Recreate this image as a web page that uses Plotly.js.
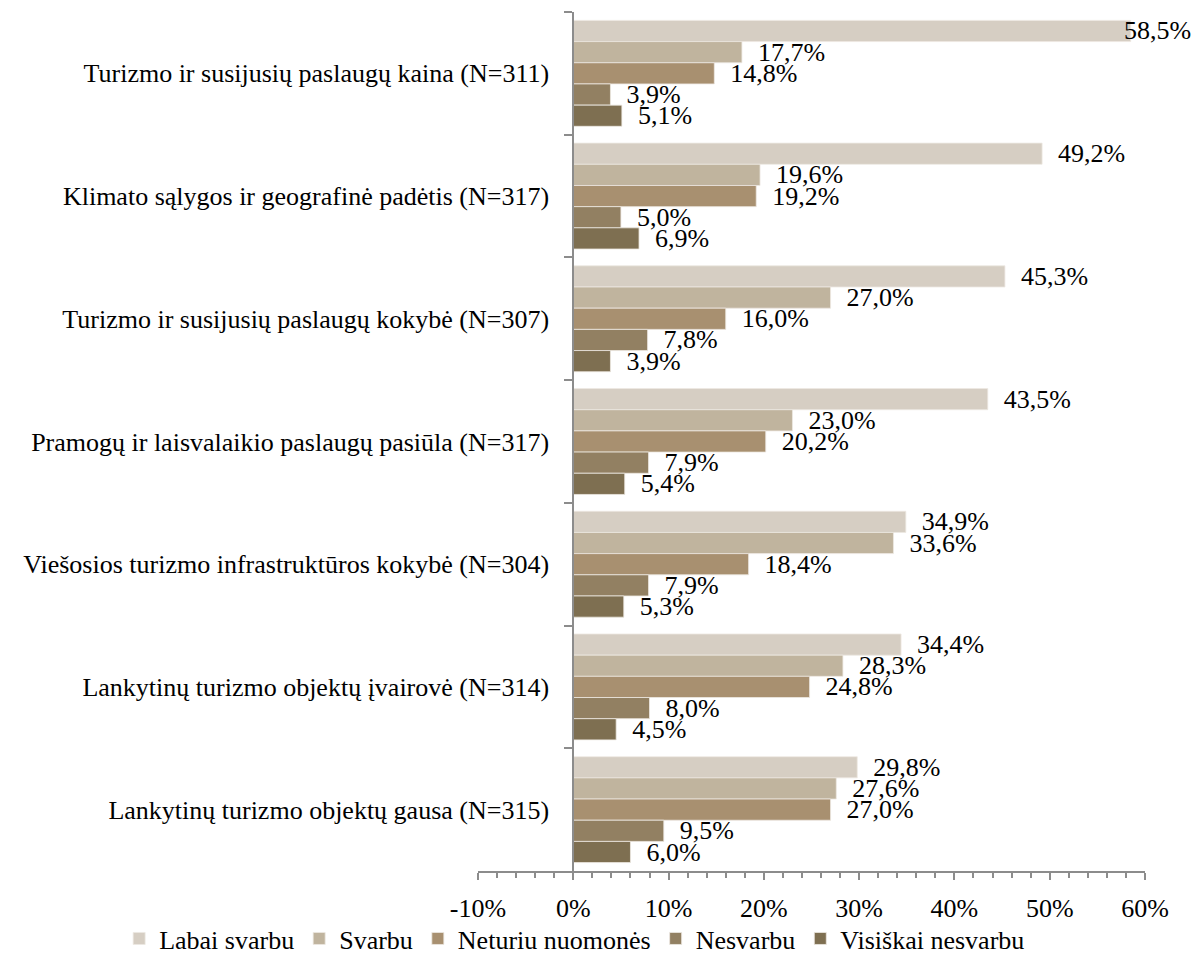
<!DOCTYPE html>
<html>
<head>
<meta charset="utf-8">
<script src="https://cdn.plot.ly/plotly-3.0.1.min.js"></script>
<style>html,body{margin:0;padding:0;background:#fff;}#chart{width:1192px;height:974px;}</style>
</head>
<body>
<div id="chart"></div>
<script>
const categories = [
  "Turizmo ir susijusių paslaugų kaina (N=311)",
  "Klimato sąlygos ir geografinė padėtis (N=317)",
  "Turizmo ir susijusių paslaugų kokybė (N=307)",
  "Pramogų ir laisvalaikio paslaugų pasiūla (N=317)",
  "Viešosios turizmo infrastruktūros kokybė (N=304)",
  "Lankytinų turizmo objektų įvairovė (N=314)",
  "Lankytinų turizmo objektų gausa (N=315)"
];
const seriesNames = ["Labai svarbu", "Svarbu", "Neturiu nuomonės", "Nesvarbu", "Visiškai nesvarbu"];
const labaiSvarbu     = [58.5, 49.2, 45.3, 43.5, 34.9, 34.4, 29.8];
const svarbu          = [17.7, 19.6, 27.0, 23.0, 33.6, 28.3, 27.6];
const neturiuNuomones = [14.8, 19.2, 16.0, 20.2, 18.4, 24.8, 27.0];
const nesvarbu        = [3.9, 5.0, 7.8, 7.9, 7.9, 8.0, 9.5];
const visiskaiNesvarbu= [5.1, 6.9, 3.9, 5.4, 5.3, 4.5, 6.0];
const xTickVals = [-10, 0, 10, 20, 30, 40, 50, 60];
const xTickText = ["-10%", "0%", "10%", "20%", "30%", "40%", "50%", "60%"];

const colors = ["#D6CEC3", "#C0B49E", "#A89070", "#928062", "#7E6F51"];
const allSeries = [labaiSvarbu, svarbu, neturiuNuomones, nesvarbu, visiskaiNesvarbu];
const FONT = 'Liberation Serif';
const NB = '\u00a0\u00a0';

function fmt(v) { return v.toFixed(1).replace('.', ',') + '%'; }

// The widest label (first series, first category) would run off the page if drawn
// outside the bar end, so it is drawn as an annotation anchored at the bar end.
const traces = allSeries.map((vals, i) => ({
  type: 'bar',
  orientation: 'h',
  name: seriesNames[i],
  x: vals,
  y: categories,
  text: vals.map((v, j) => (i === 0 && j === 0) ? '' : NB + fmt(v)),
  textposition: 'outside',
  cliponaxis: false,
  constraintext: 'none',
  textfont: {family: FONT, size: 26, color: '#000'},
  marker: {color: colors[i], line: {color: '#EDE9E2', width: 0.8}},
  hoverinfo: 'skip'
}));

const axisGray = '#8C8C8C';
const layout = {
  width: 1192,
  height: 974,
  margin: {l: 478, r: 47, t: 12, b: 94},
  paper_bgcolor: '#fff',
  plot_bgcolor: '#fff',
  font: {family: FONT, size: 26, color: '#000'},
  barmode: 'group',
  bargap: 0.137,
  bargroupgap: 0,
  showlegend: true,
  legend: {
    orientation: 'h',
    xref: 'paper', yref: 'paper',
    x: -0.538, xanchor: 'left',
    y: -0.106, yanchor: 'bottom',
    font: {family: FONT, size: 26, color: '#000'},
    itemwidth: 30,
    bgcolor: 'rgba(0,0,0,0)'
  },
  annotations: [{
    xref: 'x', yref: 'y',
    x: labaiSvarbu[0], y: categories[0],
    text: fmt(labaiSvarbu[0]),
    showarrow: false,
    xanchor: 'left', yanchor: 'middle',
    xshift: -9, yshift: 43,
    font: {family: FONT, size: 26, color: '#000'}
  }],
  xaxis: {
    range: [-10, 60],
    tickmode: 'array',
    tickvals: xTickVals,
    ticktext: xTickText,
    showgrid: false,
    zeroline: false,
    showline: true,
    linecolor: axisGray,
    linewidth: 2,
    ticks: 'outside',
    ticklen: 7,
    tickwidth: 2,
    tickcolor: axisGray,
    ticklabelstandoff: 6,
    minor: {dtick: 2, tick0: 0, ticks: 'outside', ticklen: 5, tickwidth: 2, tickcolor: axisGray, showgrid: false},
    tickfont: {family: FONT, size: 26, color: '#000'},
    fixedrange: true
  },
  xaxis2: {
    overlaying: 'x',
    anchor: 'y',
    range: [-10, 60],
    tickmode: 'linear', tick0: 0, dtick: 10,
    showticklabels: false,
    showgrid: false, zeroline: false, showline: false,
    ticks: 'inside', ticklen: 7, tickwidth: 2, tickcolor: axisGray,
    minor: {dtick: 2, tick0: 0, ticks: 'inside', ticklen: 5, tickwidth: 2, tickcolor: axisGray, showgrid: false},
    fixedrange: true
  },
  yaxis: {
    type: 'category',
    categoryorder: 'array',
    categoryarray: categories,
    autorange: 'reversed',
    anchor: 'free',
    position: 1 / 7,
    showgrid: false,
    zeroline: false,
    showline: true,
    linecolor: axisGray,
    linewidth: 2,
    ticks: 'outside',
    tickson: 'boundaries',
    ticklen: 8,
    tickwidth: 2,
    tickcolor: axisGray,
    ticklabelstandoff: 18,
    tickfont: {family: FONT, size: 26, color: '#000'},
    fixedrange: true
  },
  yaxis2: {
    overlaying: 'y',
    anchor: 'free',
    position: 1 / 7,
    range: [6.5, -0.5],
    tickmode: 'linear', tick0: 0, dtick: 1,
    showticklabels: false,
    showgrid: false, zeroline: false, showline: false,
    ticks: 'outside', ticklen: 7, tickwidth: 2, tickcolor: axisGray,
    fixedrange: true
  },
  yaxis3: {
    overlaying: 'y',
    anchor: 'free',
    position: 1 / 7,
    range: [6.5, -0.5],
    tickmode: 'linear', tick0: 0, dtick: 1,
    showticklabels: false,
    showgrid: false, zeroline: false, showline: false,
    ticks: 'inside', ticklen: 6, tickwidth: 2, tickcolor: axisGray,
    fixedrange: true
  }
};

Plotly.newPlot('chart', traces, layout, {displayModeBar: false, staticPlot: true});
</script>
</body>
</html>
